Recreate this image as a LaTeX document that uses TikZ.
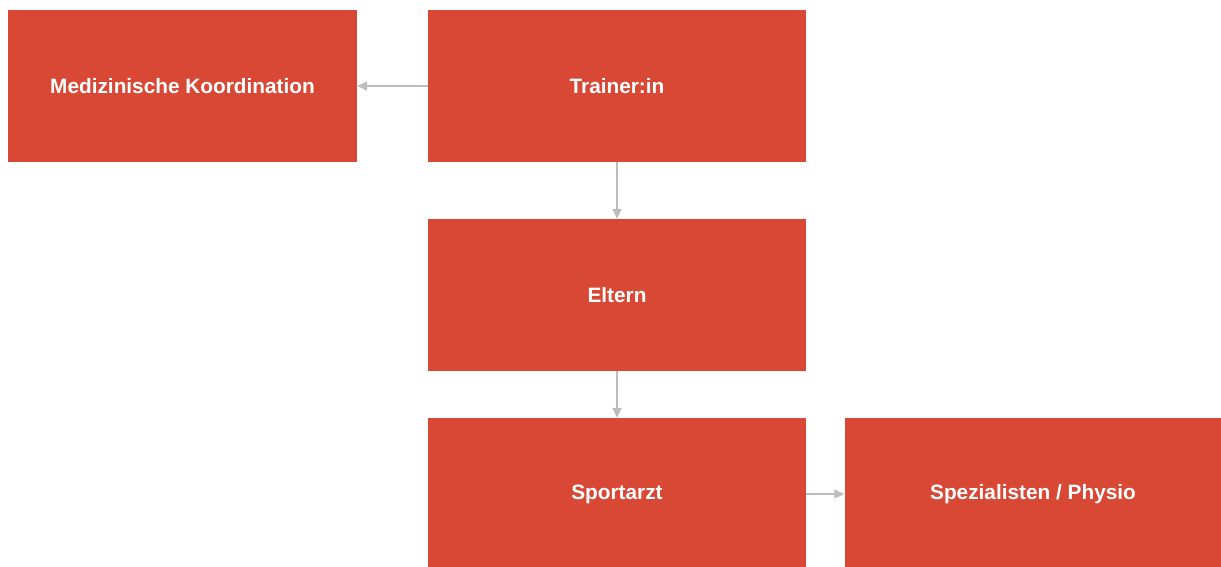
\documentclass[tikz,border=0pt]{standalone}
\usepackage{fontspec}
\setmainfont{Liberation Sans}
\usetikzlibrary{arrows.meta}
\definecolor{boxred}{HTML}{D84835}
\definecolor{arrowgray}{HTML}{BDBDBD}
\tikzset{
  box/.style={fill=boxred, draw=none, text=white, font=\bfseries\fontsize{20.8}{24}\selectfont, inner sep=0pt},
  conn/.style={draw=arrowgray, line width=1.6pt, -{Triangle[length=10pt,width=9pt]}}
}
\begin{document}
\begin{tikzpicture}[x=1pt,y=-1pt]
\useasboundingbox (0,0) rectangle (1221,566);
\node[box, minimum width=349pt, minimum height=152pt] (med) at (182.5,86) {Medizinische Koordination};
\node[box, minimum width=378pt, minimum height=152pt] (tr) at (617,86) {Trainer:in};
\node[box, minimum width=378pt, minimum height=152pt] (el) at (617,295) {Eltern};
\node[box, minimum width=378pt, minimum height=152pt] (sp) at (617,494) {Sportarzt};
\node[box, minimum width=377pt, minimum height=152pt] (phy) at (1033,494) {Spezialisten / Physio};
\draw[conn] (tr.west) -- (med.east);
\draw[conn] (tr.south) -- (el.north);
\draw[conn] (el.south) -- (sp.north);
\draw[conn] (sp.east) -- (phy.west);
\end{tikzpicture}
\end{document}
